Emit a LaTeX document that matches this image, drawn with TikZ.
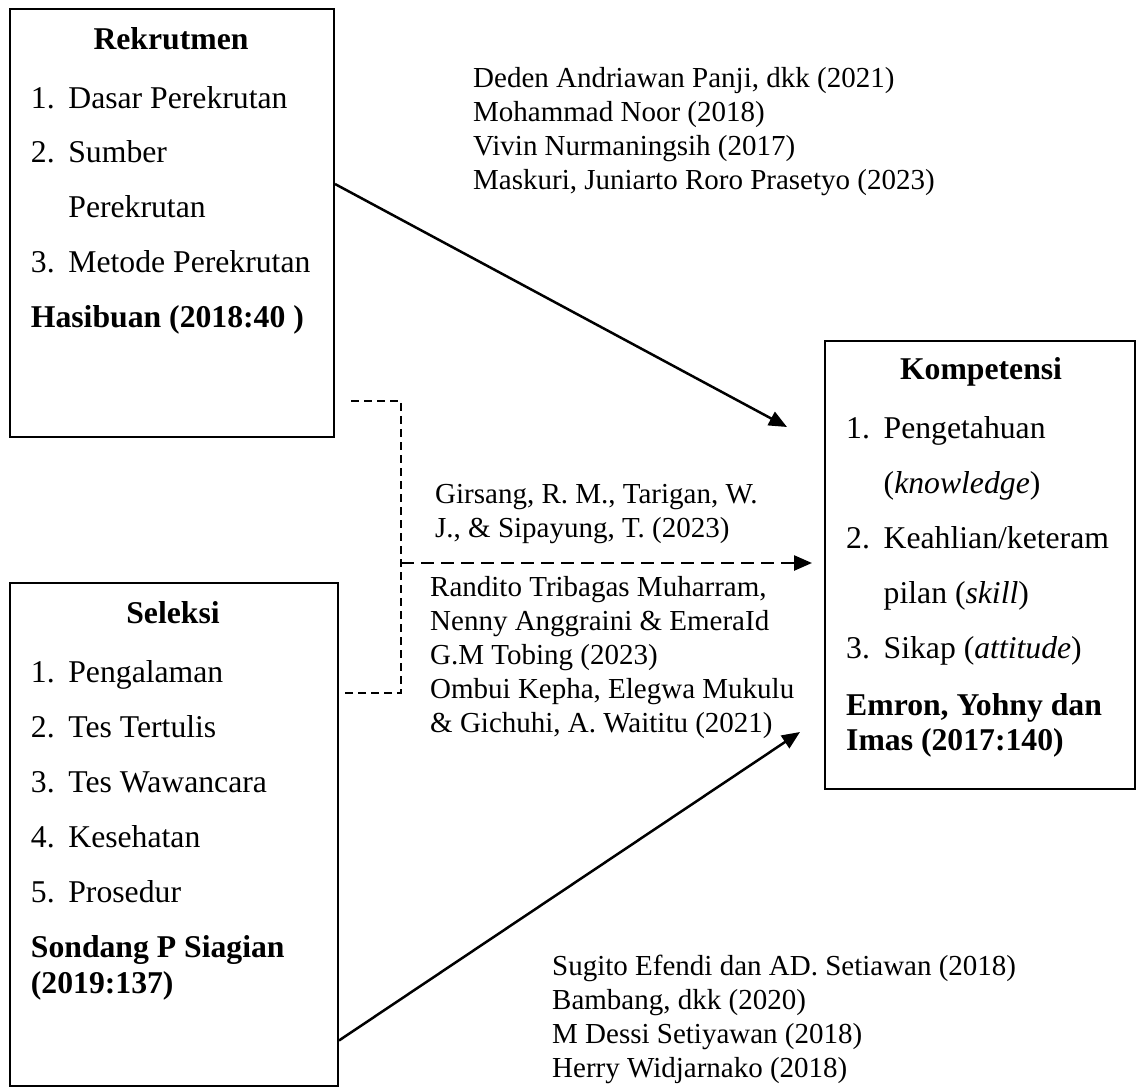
\documentclass[tikz,border=0pt]{standalone}
\usepackage{fontspec}
\setmainfont{Liberation Serif}
\usetikzlibrary{shapes,arrows.meta,positioning}

\newcommand{\itm}[1]{\makebox[37.5pt][l]{#1}}

\begin{document}
\begin{tikzpicture}[x=1pt, y=-1pt,
    box/.style={rectangle, draw, line width=2pt, inner sep=0pt, anchor=north west},
    boxtitle/.style={inner sep=0pt, anchor=base, font=\fontsize{31.7pt}{55pt}\selectfont\bfseries},
    boxtext/.style={inner sep=0pt, anchor=base west, align=left, font=\fontsize{31.7pt}{55pt}\selectfont},
    ref/.style={inner sep=0pt, anchor=base west, align=left, font=\fontsize{29pt}{34pt}\selectfont},
    link/.style={line width=2.5pt, -{Triangle[length=18pt,width=15pt]}},
    dashlink/.style={line width=1.6pt, dash pattern=on 8pt off 5pt}]
    \useasboundingbox (0,0) rectangle (1136,1091);

    % the three variable boxes
    \node (rek) [box, minimum width=324pt, minimum height=428pt] at (9,8) {};
    \node (sel) [box, minimum width=328pt, minimum height=503pt] at (9,582) {};
    \node (komp) [box, minimum width=310pt, minimum height=448pt] at (824,340) {};

    % lists are placed by the baseline of their last line
    \node (rektitle) [boxtitle] at (171,50) {Rekrutmen};
    \node (reklist) [boxtext] at (30.7,328)
        {\itm{1.}Dasar Perekrutan\\ \itm{2.}Sumber\\ \itm{}Perekrutan\\
         \itm{3.}Metode Perekrutan\\ \textbf{Hasibuan (2018:40 )}};

    \node (seltitle) [boxtitle] at (173,623) {Seleksi};
    \node (sellist) [boxtext] at (30.7,993)
        {\itm{1.}Pengalaman\\ \itm{2.}Tes Tertulis\\ \itm{3.}Tes Wawancara\\
         \itm{4.}Kesehatan\\ \itm{5.}Prosedur\\
         \textbf{Sondang P Siagian}\\[-19pt] \textbf{(2019:137)}};

    \node (komptitle) [boxtitle] at (981,380) {Kompetensi};
    \node (komplist) [boxtext] at (846,750)
        {\itm{1.}Pengetahuan\\ \itm{}(\textit{knowledge})\\ \itm{2.}Keahlian/keteram\\
         \itm{}pilan (\textit{skill})\\ \itm{3.}Sikap (\textit{attitude})\\[2pt]
         \textbf{Emron, Yohny dan}\\[-20pt] \textbf{Imas (2017:140)}};

    % references on the paths
    \node (refa) [ref] at (473,190)
        {Deden Andriawan Panji, dkk (2021)\\Mohammad Noor (2018)\\
         Vivin Nurmaningsih (2017)\\Maskuri, Juniarto Roro Prasetyo (2023)};
    \node (refb) [ref] at (435,537) {Girsang, R. M., Tarigan, W.\\J., \& Sipayung, T. (2023)};
    \node (refc) [ref] at (430,732)
        {Randito Tribagas Muharram,\\Nenny Anggraini \& EmeraId\\G.M Tobing (2023)\\
         Ombui Kepha, Elegwa Mukulu\\\& Gichuhi, A. Waititu (2021)};
    \node (refd) [ref] at (552,1077)
        {Sugito Efendi dan AD. Setiawan (2018)\\Bambang, dkk (2020)\\
         M Dessi Setiyawan (2018)\\Herry Widjarnako (2018)};

    % arrows
    \coordinate (kompa) at (787,427);
    \coordinate (kompb) at (812,563);
    \coordinate (kompc) at (800,732);
    \coordinate (rekdash) at (351,401);
    \coordinate (seldash) at (343,693);
    \coordinate (join) at (401,563);

    \draw [link] ([yshift=39pt]rek.east) -- (kompa);
    \draw [link] ([yshift=-206pt]sel.east) -- (kompc);
    \draw [dashlink] (rekdash) -| (join) |- (seldash);
    \draw [link, dash pattern=on 13pt off 7pt] (join) -- (kompb);
\end{tikzpicture}
\end{document}
